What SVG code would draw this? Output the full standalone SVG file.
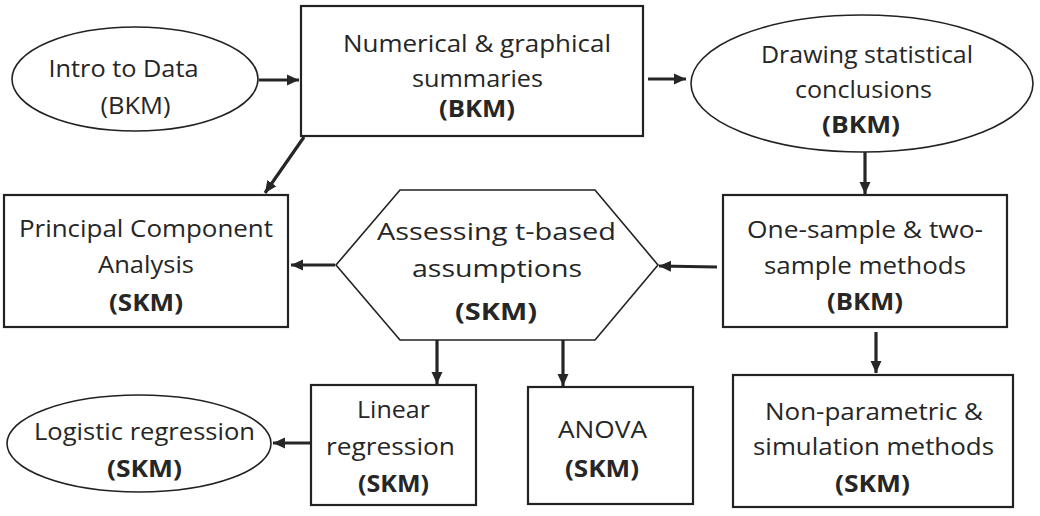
<svg xmlns="http://www.w3.org/2000/svg" width="1040" height="516" viewBox="0 0 1040 516">
<defs>
<style>
.box{fill:#fff;stroke:#222;stroke-width:2.2}
.ell{fill:#fff;stroke:#222;stroke-width:1.6}
.t{font-family:"Open Sans","Noto Sans","Liberation Sans",sans-serif;font-size:24px;fill:#262626;text-anchor:middle}
.b{font-weight:bold}
.c{fill:none;stroke:#262626;stroke-width:3.2}
</style>
<marker id="ah" markerUnits="userSpaceOnUse" markerWidth="14" markerHeight="14" viewBox="0 0 14 14" refX="12" refY="7" orient="auto">
<path d="M0,1.5 L12,7 L0,12.5 Z" fill="#262626"/>
</marker>
</defs>
<rect width="1040" height="516" fill="#fff"/>

<g id="connectors">
<line class="c" x1="259" y1="80" x2="299" y2="80" marker-end="url(#ah)"/>
<line class="c" x1="648" y1="79" x2="686" y2="79" marker-end="url(#ah)"/>
<line class="c" x1="304" y1="137" x2="265" y2="193" marker-end="url(#ah)"/>
<line class="c" x1="865" y1="152" x2="865" y2="194" marker-end="url(#ah)"/>
<line class="c" x1="717" y1="267" x2="659" y2="266" marker-end="url(#ah)"/>
<line class="c" x1="335" y1="265" x2="291" y2="265" marker-end="url(#ah)"/>
<line class="c" x1="876" y1="332" x2="876" y2="373" marker-end="url(#ah)"/>
<line class="c" x1="437" y1="340" x2="437" y2="384" marker-end="url(#ah)"/>
<line class="c" x1="563" y1="340" x2="563" y2="386" marker-end="url(#ah)"/>
<line class="c" x1="311" y1="443" x2="273" y2="443" marker-end="url(#ah)"/>
</g>

<g id="intro">
<ellipse class="ell" cx="135" cy="79" rx="123" ry="52"/>
<text class="t" x="123.5" y="77" textLength="150" lengthAdjust="spacingAndGlyphs">Intro to Data</text>
<text class="t" x="135.5" y="114" textLength="70" lengthAdjust="spacingAndGlyphs">(BKM)</text>
</g>

<g id="numerical">
<rect class="box" x="301" y="6" width="342" height="130"/>
<text class="t" x="477" y="52" textLength="268" lengthAdjust="spacingAndGlyphs">Numerical &amp; graphical</text>
<text class="t" x="477.5" y="87" textLength="131" lengthAdjust="spacingAndGlyphs">summaries</text>
<text class="t b" x="477" y="117" textLength="76" lengthAdjust="spacingAndGlyphs">(BKM)</text>
</g>

<g id="drawing">
<ellipse class="ell" cx="862" cy="83.5" rx="171" ry="68.5"/>
<text class="t" x="867" y="63" textLength="212" lengthAdjust="spacingAndGlyphs">Drawing statistical</text>
<text class="t" x="863.5" y="98" textLength="137" lengthAdjust="spacingAndGlyphs">conclusions</text>
<text class="t b" x="861" y="133" textLength="78" lengthAdjust="spacingAndGlyphs">(BKM)</text>
</g>

<g id="pca">
<rect class="box" x="4" y="195" width="284" height="132"/>
<text class="t" x="146" y="237" textLength="254" lengthAdjust="spacingAndGlyphs">Principal Component</text>
<text class="t" x="146" y="273" textLength="96" lengthAdjust="spacingAndGlyphs">Analysis</text>
<text class="t b" x="146" y="311" textLength="74" lengthAdjust="spacingAndGlyphs">(SKM)</text>
</g>

<g id="assessing">
<polygon class="ell" points="400,190 595,190 658,265 595,340 400,340 336,265"/>
<text class="t" x="496.5" y="240" textLength="239" lengthAdjust="spacingAndGlyphs">Assessing t-based</text>
<text class="t" x="497" y="277" textLength="170" lengthAdjust="spacingAndGlyphs">assumptions</text>
<text class="t b" x="496" y="320" textLength="82" lengthAdjust="spacingAndGlyphs">(SKM)</text>
</g>

<g id="onesample">
<rect class="box" x="723" y="195" width="284" height="132"/>
<text class="t" x="865" y="238" textLength="236" lengthAdjust="spacingAndGlyphs">One-sample &amp; two-</text>
<text class="t" x="865" y="274" textLength="202" lengthAdjust="spacingAndGlyphs">sample methods</text>
<text class="t b" x="865" y="310" textLength="76" lengthAdjust="spacingAndGlyphs">(BKM)</text>
</g>

<g id="logistic">
<ellipse class="ell" cx="139" cy="443.5" rx="132" ry="48.5"/>
<text class="t" x="144.5" y="440" textLength="221" lengthAdjust="spacingAndGlyphs">Logistic regression</text>
<text class="t b" x="144.5" y="477" textLength="75" lengthAdjust="spacingAndGlyphs">(SKM)</text>
</g>

<g id="linear">
<rect class="box" x="311" y="385" width="165" height="120"/>
<text class="t" x="393.5" y="418" textLength="73" lengthAdjust="spacingAndGlyphs">Linear</text>
<text class="t" x="390.5" y="455" textLength="129" lengthAdjust="spacingAndGlyphs">regression</text>
<text class="t b" x="393.5" y="492" textLength="71" lengthAdjust="spacingAndGlyphs">(SKM)</text>
</g>

<g id="anova">
<rect class="box" x="528" y="387" width="165" height="117"/>
<text class="t" x="602.5" y="438" textLength="89" lengthAdjust="spacingAndGlyphs">ANOVA</text>
<text class="t b" x="602" y="477" textLength="74" lengthAdjust="spacingAndGlyphs">(SKM)</text>
</g>

<g id="nonparametric">
<rect class="box" x="733" y="375" width="280" height="132"/>
<text class="t" x="874" y="420" textLength="218" lengthAdjust="spacingAndGlyphs">Non-parametric &amp;</text>
<text class="t" x="873.5" y="455" textLength="241" lengthAdjust="spacingAndGlyphs">simulation methods</text>
<text class="t b" x="872.5" y="492" textLength="75" lengthAdjust="spacingAndGlyphs">(SKM)</text>
</g>
</svg>
